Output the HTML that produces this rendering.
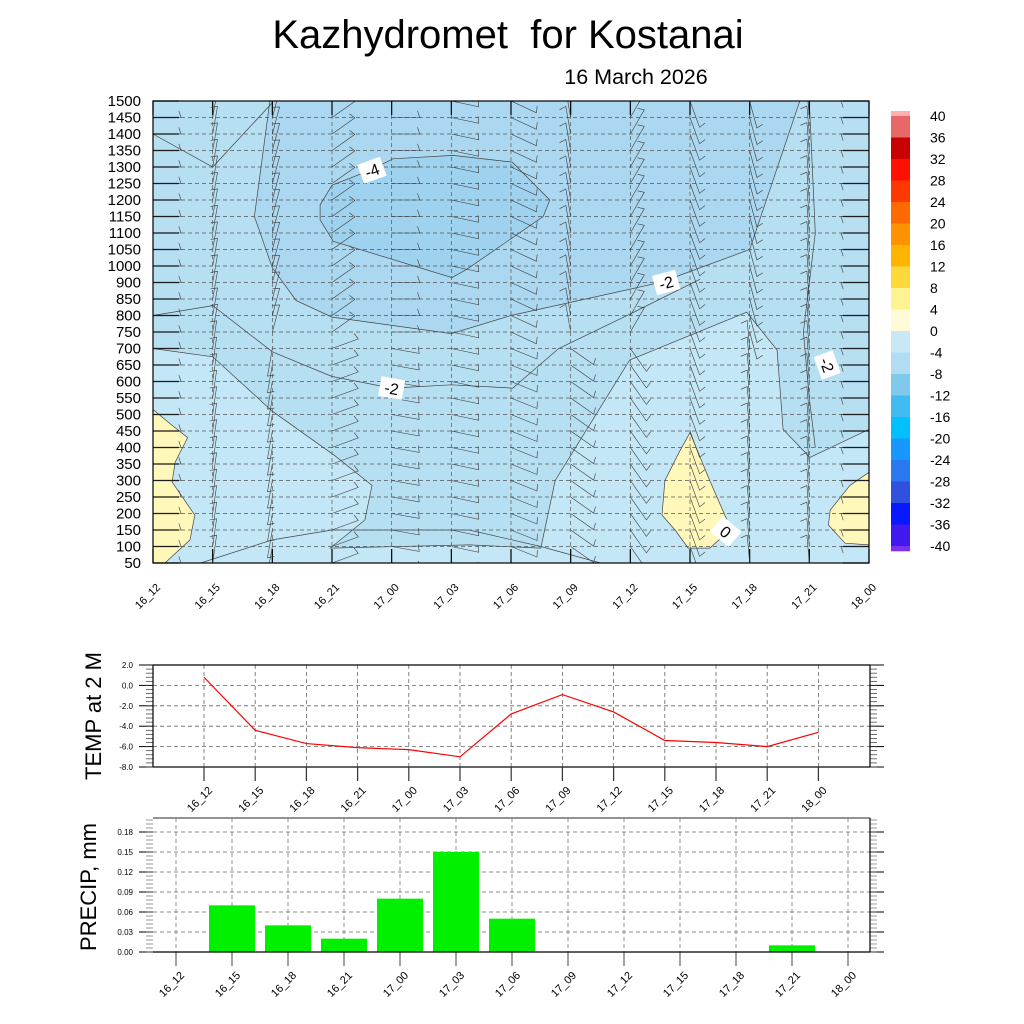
<!DOCTYPE html>
<html><head><meta charset="utf-8"><style>
body{margin:0;background:#fff;}
svg{display:block;font-family:"Liberation Sans",sans-serif;}
</style></head><body>
<svg id="chart" width="1024" height="1024" viewBox="0 0 1024 1024">
<text x="508" y="48" font-size="40" text-anchor="middle">Kazhydromet&#160; for Kostanai</text>
<text x="636" y="84" font-size="21.5" text-anchor="middle">16 March 2026</text>
<g id="main"></g>
<g id="cbar"></g>
<g id="temp"></g>
<g id="precip"></g>
</svg>
<script>
const times=["16_12","16_15","16_18","16_21","17_00","17_03","17_06","17_09","17_12","17_15","17_18","17_21","18_00"];
const levels=[50,100,150,200,250,300,350,400,450,500,550,600,650,700,750,800,850,900,1000,1050,1100,1150,1200,1250,1300,1350,1400,1450,1500];
const tempValues=[0.8,-4.4,-5.7,-6.1,-6.3,-7.0,-2.8,-0.9,-2.6,-5.4,-5.6,-6.0,-4.6];
const tempTicks=[2,0,-2,-4,-6,-8];
const precipValues=[0,0.07,0.04,0.02,0.08,0.15,0.05,0,0,0,0,0.01,0];
const precipTicks=[0,0.03,0.06,0.09,0.12,0.15,0.18];
const cbarLabels=[40,36,32,28,24,20,16,12,8,4,0,-4,-8,-12,-16,-20,-24,-28,-32,-36,-40];
const cbarColors=["#ffb0b0","#e86868","#c80000","#ff1000","#ff3800","#ff6a00","#ff9200","#ffb400","#ffd83a","#fff290","#fffbd8","#c8e8f8","#b2dcf2","#80c8ec","#40bcf2","#00c0ff","#1898ff","#2878f0","#3050e0","#0818ff","#4018f0","#8030f0"];
const windUpper=[0,-80,-75,-35,0,12,25,-100,-60,70,75,-95,180];
const windLower=[0,-82,100,-20,10,12,22,35,55,70,-95,-95,180];
const regionDark=[[1.96,28],[1.7,21],[2.0,17.9],[2.4,15.9],[3.0,14.9],[5.0,13.9],[6.0,15.0],[8.5,17.0],[10.0,19.0],[10.84,28]];
const regionDarkest=[[3.0,22.9],[2.8,21.7],[2.8,20.8],[3.02,19.5],[5.01,17.3],[5.26,17.8],[6.54,21.0],[6.65,22.0],[6.02,24.3],[5.03,24.7],[4.02,24.5],[3.64,23.8]];
const regionLight=[[0,13.0],[1.0,12.5],[2.0,9.2],[3.05,6.5],[3.67,4.7],[3.55,2.6],[2.97,0.9],[5.3,1.1],[6.5,0.9],[6.74,5.0],[7.99,12.3],[9.95,15.2],[10.46,12.9],[10.56,8.1],[11.01,6.4],[12,8.1],[12,0],[0,0]];
const yellowLeft=[[0,9.3],[0.3,8.4],[0.58,7.6],[0.37,6.1],[0.32,4.9],[0.7,2.9],[0.62,1.4],[0.2,0],[0,0]];
const yellowMid=[[9.0,7.9],[9.33,5.0],[9.62,2.6],[9.58,1.7],[9.33,0.9],[8.97,0.9],[8.75,2.0],[8.53,2.9],[8.58,5.0],[8.83,6.8]];
const yellowRight=[[12,5.5],[11.68,4.7],[11.35,3.2],[11.32,2.3],[11.6,1.2],[12,1.1]];
const extraLines=[
 [[0,15.0],[1.0,15.6],[2.0,12.8],[3.0,11.3],[4.0,10.6],[5.0,10.8],[6.03,10.6],[6.8,13.0],[8.0,15.1],[9.17,17.2]],
 [[0,26.0],[1.0,24.0],[2.0,27.9]],
 [[0.8,0],[2.0,1.4],[3.0,2.0],[5.3,2.0],[6.5,1.0],[7.5,0]],
 [[11.0,28],[11.1,20],[10.9,14],[11.0,10],[11.1,7]]
];
const contourLabels=[["-4",3.67,23.8,-20],["-2",4.0,10.6,10],["-2",8.6,17.0,-15],["-2",11.3,12.0,70],["0",9.6,1.9,40]];

const NS="http://www.w3.org/2000/svg";
function mk(parent,tag,attrs){const e=document.createElementNS(NS,tag);for(const k in attrs)e.setAttribute(k,attrs[k]);parent.appendChild(e);return e;}
const X0=153,X1=869,Y0=563,Y1=101;
const xT=t=>X0+t*(X1-X0)/(times.length-1);
const yI=i=>Y0-i*(Y0-Y1)/(levels.length-1);
const P=pts=>pts.map(p=>xT(p[0]).toFixed(1)+","+yI(p[1]).toFixed(1)).join(" ");
const main=document.getElementById("main");
const clip=mk(main,"clipPath",{id:"mc"});mk(clip,"rect",{x:X0,y:Y1,width:X1-X0,height:Y0-Y1});
const bg=mk(main,"rect",{x:X0,y:Y1,width:X1-X0,height:Y0-Y1,fill:"#b6dff2"});


const cg=mk(main,"g",{"clip-path":"url(#mc)"});
[[regionLight,"#c3e7f6"],[regionDark,"#abd8f0"],[regionDarkest,"#9fd2ef"],[yellowLeft,"#fff8ba"],[yellowMid,"#fff8ba"],[yellowRight,"#fff8ba"]].forEach(r=>{
 const e=mk(cg,"polygon",{points:P(r[0]),fill:r[1],stroke:"#444","stroke-width":0.7});
 
 
});
extraLines.forEach(l=>{
 const e=mk(cg,"polyline",{points:P(l),fill:"none",stroke:"#444","stroke-width":0.7});
 
 
});
levels.forEach((lv,i)=>{
 const e=mk(main,"line",{x1:X0,x2:X1,y1:yI(i),y2:yI(i),stroke:"#555","stroke-width":0.7,"stroke-dasharray":"4,3"});
 
 
 const t=mk(main,"text",{x:141,y:yI(i)+5,"font-size":15,"text-anchor":"end"});t.textContent=lv;
 
 
 mk(main,"line",{x1:X0,x2:X0+26,y1:yI(i),y2:yI(i),stroke:"#000","stroke-width":1.2});
 mk(main,"line",{x1:X1-26,x2:X1,y1:yI(i),y2:yI(i),stroke:"#000","stroke-width":1.2});
});
times.forEach((tm,k)=>{
 const x=xT(k);
 const e=mk(main,"line",{x1:x,x2:x,y1:Y1,y2:Y0,stroke:"#555","stroke-width":0.7,"stroke-dasharray":"4,3"});
 
 
 mk(main,"line",{x1:x,x2:x,y1:Y1,y2:Y1+14,stroke:"#000","stroke-width":1.2});
 mk(main,"line",{x1:x,x2:x,y1:Y0-14,y2:Y0,stroke:"#000","stroke-width":1.2});
 const t=mk(main,"text",{x:0,y:0,"font-size":11,"text-anchor":"end",transform:`translate(${x+8},${Y0+25}) rotate(-45)`});t.textContent=tm;
 
 
});
const wb=mk(main,"g",{"clip-path":"url(#mc)",stroke:"#3a3a3a","stroke-width":0.6,fill:"none"});
times.forEach((tm,k)=>{levels.forEach((lv,i)=>{
 const a=(i>=14?windUpper[k]:windLower[k])*Math.PI/180;
 const x=xT(k),y=yI(i),L=28;
 const ex=x+L*Math.cos(a),ey=y+L*Math.sin(a);
 const fa=a-Math.PI*0.6;
 const b=mk(wb,"path",{d:`M${x},${y}L${ex.toFixed(1)},${ey.toFixed(1)}L${(ex+7*Math.cos(fa)).toFixed(1)},${(ey+7*Math.sin(fa)).toFixed(1)}`});
 
 
});});
contourLabels.forEach(c=>{
 const g=mk(main,"g",{transform:`translate(${xT(c[1])},${yI(c[2])}) rotate(${c[3]})`});
 
 
 mk(g,"rect",{x:-12,y:-10,width:24,height:20,fill:"#fff"});
 const t=mk(g,"text",{x:0,y:6,"font-size":16,"text-anchor":"middle"});t.textContent=c[0];
});
mk(main,"rect",{x:X0,y:Y1,width:X1-X0,height:Y0-Y1,fill:"none",stroke:"#000","stroke-width":1.2});

const cb=document.getElementById("cbar");
const CB0=111,CB1=551,nb=cbarColors.length;
cbarColors.forEach((c,i)=>{
 const y0=i==0?CB0:116+(i-1)*21.5, y1=i==nb-1?CB1:116+i*21.5;
 const r=mk(cb,"rect",{x:891,y:y0,width:19,height:y1-y0+0.3,fill:c});
 
 
});
cbarLabels.forEach((v,i)=>{
 const t=mk(cb,"text",{x:930,y:116+i*21.5+5,"font-size":14});t.textContent=v;
 
 
});

const tg=document.getElementById("temp");
const TX0=153,TX1=870,TY0=767,TY1=665;
const tx=i=>204+i*51.2, ty=v=>TY0-(v+8)/10*(TY0-TY1);
tempTicks.forEach(v=>{
 const e=mk(tg,"line",{x1:TX0,x2:TX1,y1:ty(v),y2:ty(v),stroke:"#666","stroke-width":0.8,"stroke-dasharray":"4,3"});
 
 
 const t=mk(tg,"text",{x:133,y:ty(v)+3,"font-size":8,"text-anchor":"end"});t.textContent=v.toFixed(1);
 
 
 mk(tg,"line",{x1:TX0-14,x2:TX0,y1:ty(v),y2:ty(v),stroke:"#000"});
 mk(tg,"line",{x1:TX1,x2:TX1+14,y1:ty(v),y2:ty(v),stroke:"#000"});
});
for(let v=-8;v<=2;v+=0.4){mk(tg,"line",{x1:TX0-7,x2:TX0,y1:ty(v),y2:ty(v),stroke:"#333","stroke-width":0.7});mk(tg,"line",{x1:TX1,x2:TX1+7,y1:ty(v),y2:ty(v),stroke:"#333","stroke-width":0.7});}
times.forEach((tm,i)=>{
 const e=mk(tg,"line",{x1:tx(i),x2:tx(i),y1:TY1,y2:TY0,stroke:"#666","stroke-width":0.8,"stroke-dasharray":"4,3"});
 
 
 mk(tg,"line",{x1:tx(i),x2:tx(i),y1:TY0,y2:TY0+14,stroke:"#333","stroke-width":1.2});
 const t=mk(tg,"text",{x:0,y:0,"font-size":11,"text-anchor":"end",transform:`translate(${tx(i)+9},${TY0+24}) rotate(-45)`});t.textContent=tm;
 
 
});
const tl=mk(tg,"polyline",{points:tempValues.map((v,i)=>tx(i)+","+ty(v)).join(" "),fill:"none",stroke:"#f00","stroke-width":1.2});


mk(tg,"line",{x1:TX0,x2:TX1,y1:TY1,y2:TY1,stroke:"#000","stroke-width":1.2});
mk(tg,"line",{x1:TX0,x2:TX1,y1:TY0,y2:TY0,stroke:"#333","stroke-width":1.5});
mk(tg,"line",{x1:TX0,x2:TX0,y1:TY1,y2:TY0,stroke:"#000","stroke-width":1.2});
mk(tg,"line",{x1:TX1,x2:TX1,y1:TY1,y2:TY0,stroke:"#000","stroke-width":1.2});
const tt=mk(tg,"text",{x:0,y:0,"font-size":22,"text-anchor":"middle",transform:"translate(101,716) rotate(-90)"});tt.textContent="TEMP at 2 M";



const pg=document.getElementById("precip");
const PX0=153,PX1=870,PY0=952,PY1=818;
const px=i=>176+i*56, py=v=>PY0-v/0.03*20;
precipTicks.forEach(v=>{
 const e=mk(pg,"line",{x1:PX0,x2:PX1,y1:py(v),y2:py(v),stroke:"#666","stroke-width":0.8,"stroke-dasharray":"4,3"});
 
 
 const t=mk(pg,"text",{x:133,y:py(v)+3,"font-size":8,"text-anchor":"end"});t.textContent=v.toFixed(2);
 
 
 mk(pg,"line",{x1:PX0-14,x2:PX0,y1:py(v),y2:py(v),stroke:"#000"});
 mk(pg,"line",{x1:PX1,x2:PX1+14,y1:py(v),y2:py(v),stroke:"#000"});
});
for(let v=0;v<=0.2;v+=0.006){mk(pg,"line",{x1:PX0-7,x2:PX0,y1:py(v),y2:py(v),stroke:"#555","stroke-width":0.6});mk(pg,"line",{x1:PX1,x2:PX1+7,y1:py(v),y2:py(v),stroke:"#555","stroke-width":0.6});}
times.forEach((tm,i)=>{
 const e=mk(pg,"line",{x1:px(i),x2:px(i),y1:PY1,y2:PY0,stroke:"#777","stroke-width":0.8,"stroke-dasharray":"4,3"});
 
 
});
precipValues.forEach((v,i)=>{
 const r=mk(pg,"rect",{x:px(i)-23,y:py(v),width:46,height:PY0-py(v),fill:"#00f000"});
 
 
});
times.forEach((tm,i)=>{
 mk(pg,"line",{x1:px(i),x2:px(i),y1:PY0,y2:PY0+14,stroke:"#666","stroke-width":1.2});
 const t=mk(pg,"text",{x:0,y:0,"font-size":11,"text-anchor":"end",transform:`translate(${px(i)+9},${PY0+24}) rotate(-45)`});t.textContent=tm;
 
 
});
mk(pg,"line",{x1:PX0,x2:PX1,y1:PY1,y2:PY1,stroke:"#555","stroke-width":1.2});
mk(pg,"line",{x1:PX0,x2:PX1,y1:PY0,y2:PY0,stroke:"#000","stroke-width":1.2});
mk(pg,"line",{x1:PX1,x2:PX1,y1:PY1,y2:PY0,stroke:"#000","stroke-width":1.2});
const ptt=mk(pg,"text",{x:0,y:0,"font-size":22,"text-anchor":"middle",transform:"translate(96,887) rotate(-90)"});ptt.textContent="PRECIP, mm";


</script>
</body></html>
